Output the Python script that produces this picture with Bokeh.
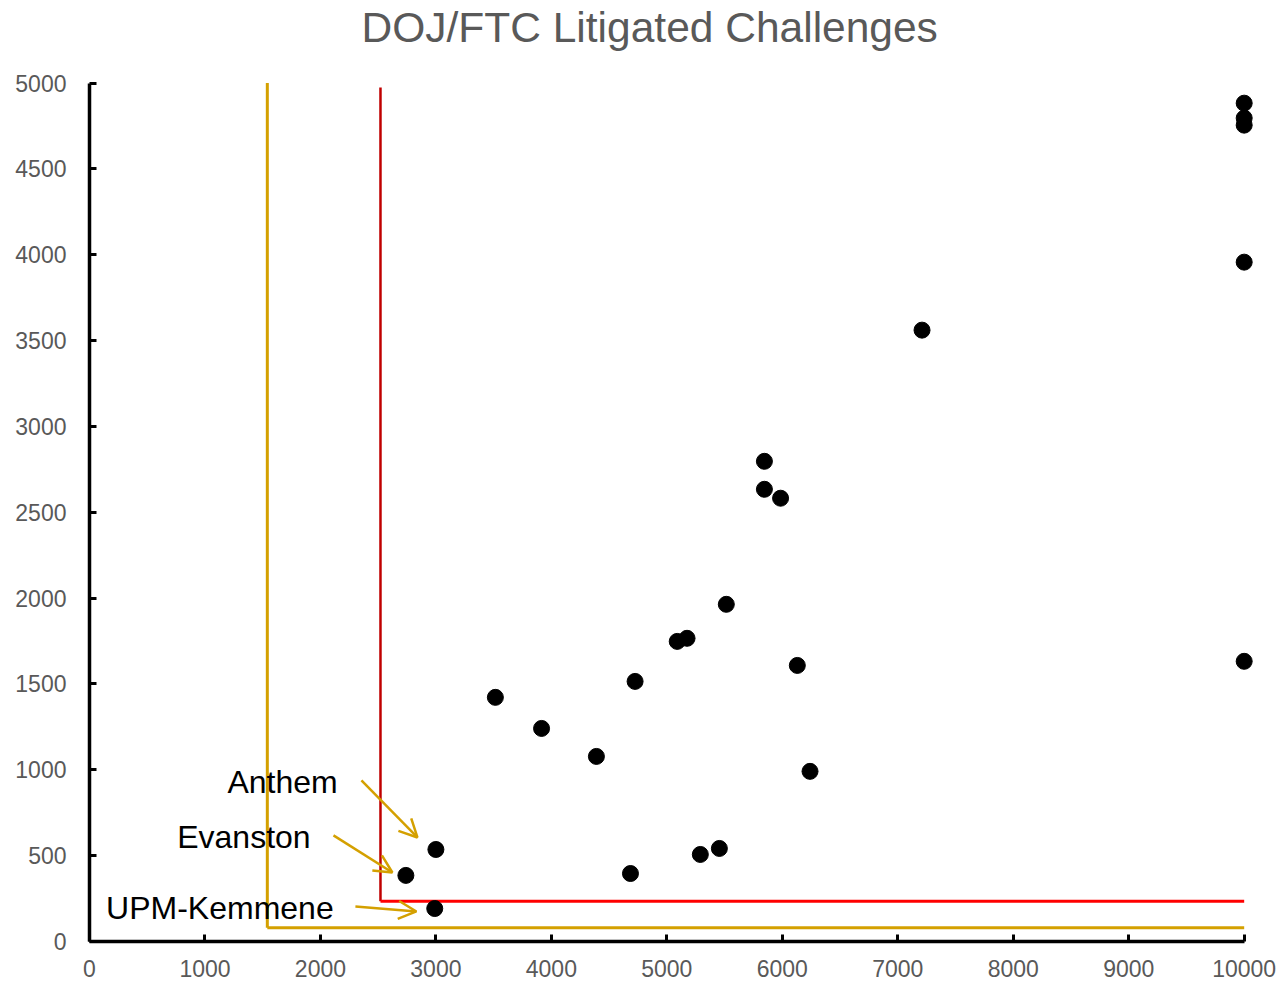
from bokeh.plotting import figure
from bokeh.models import Range1d, FixedTicker, Arrow, OpenHead, Label, ColumnDataSource, Title
from bokeh.embed import file_html
from bokeh.resources import INLINE

# Data
x_vals = [3000, 2740, 2990, 3515, 3915, 4390, 4685, 4725, 5090, 5175, 5290, 5455, 5515,
          5845, 5845, 5985, 6130, 6240, 7210, 10000, 10000, 10000, 10000, 10000]
y_vals = [536, 385, 192, 1422, 1241, 1078, 396, 1515, 1748, 1766, 507, 542, 1964,
          2797, 2634, 2582, 1608, 991, 3561, 4883, 4796, 4755, 3957, 1632]

gold_x = 1540
gold_y = 80
red_x = 2520
red_y = 235
red_top = 4975
x_max = 10000
y_max = 5000

x_ticks = list(range(0, 10001, 1000))
y_ticks = list(range(0, 5001, 500))

labels = ["Anthem", "Evanston", "UPM-Kemmene"]
label_x = [2150, 1915, 2115]
label_y = [930, 606, 198]
arrow_x0 = [2355, 2113, 2303]
arrow_y0 = [938, 618, 204]
arrow_x1 = [2840, 2623, 2831]
arrow_y1 = [606, 402, 175]

GOLD = "#D4A000"
GREY = "#595959"
FONT = "Liberation Sans"

p = figure(width=1280, height=981, output_backend="svg", toolbar_location=None,
           x_range=Range1d(0, 10150), y_range=Range1d(0, 5050),
           min_border_left=89, min_border_right=19, min_border_top=74, min_border_bottom=40)
p.outline_line_color = None
p.xgrid.visible = False
p.ygrid.visible = False

p.title.text = "DOJ/FTC Litigated Challenges"
p.title.text_font = FONT
p.title.text_font_size = "42.5px"
p.title.text_font_style = "normal"
p.title.text_color = GREY
p.title.align = "left"
p.title.offset = 272
p.title.standoff = 0

# spacer between the title and the plot frame
p.add_layout(Title(text=" ", text_font_size="20px", standoff=0), "above")

for ax in (p.xaxis[0], p.yaxis[0]):
    ax.axis_line_width = 3.5
    ax.axis_line_color = "black"
    ax.major_tick_line_width = 3
    ax.major_tick_line_color = "black"
    ax.major_tick_in = 7
    ax.major_tick_out = 0
    ax.minor_tick_line_color = None
    ax.major_label_text_font = FONT
    ax.major_label_text_font_size = "23px"
    ax.major_label_text_color = GREY

p.xaxis[0].bounds = (0, x_max)
p.yaxis[0].bounds = (0, y_max)
p.xaxis[0].ticker = FixedTicker(ticks=x_ticks)
p.yaxis[0].ticker = FixedTicker(ticks=y_ticks)
p.xaxis[0].major_label_standoff = 18
p.yaxis[0].major_label_standoff = 23

# threshold lines
p.line([gold_x, gold_x], [gold_y, y_max], line_color=GOLD, line_width=3)
p.line([gold_x, x_max], [gold_y, gold_y], line_color=GOLD, line_width=3)
p.line([red_x, red_x], [red_y, red_top], line_color="#C00000", line_width=2.5)
p.line([red_x, x_max], [red_y, red_y], line_color="#FF0000", line_width=3)

src = ColumnDataSource(dict(x=x_vals, y=y_vals))
p.scatter("x", "y", source=src, size=16, fill_color="black", line_color="black")

for i, t in enumerate(labels):
    p.add_layout(Label(x=label_x[i], y=label_y[i], text=t, text_font=FONT,
                       text_font_size="32px", text_color="black",
                       text_align="right", text_baseline="middle"))
    p.add_layout(Arrow(x_start=arrow_x0[i], y_start=arrow_y0[i],
                       x_end=arrow_x1[i], y_end=arrow_y1[i],
                       line_color=GOLD, line_width=2.5,
                       end=OpenHead(size=18, line_color=GOLD, line_width=2.5)))

open("out.html", "w").write(file_html(p, INLINE))
